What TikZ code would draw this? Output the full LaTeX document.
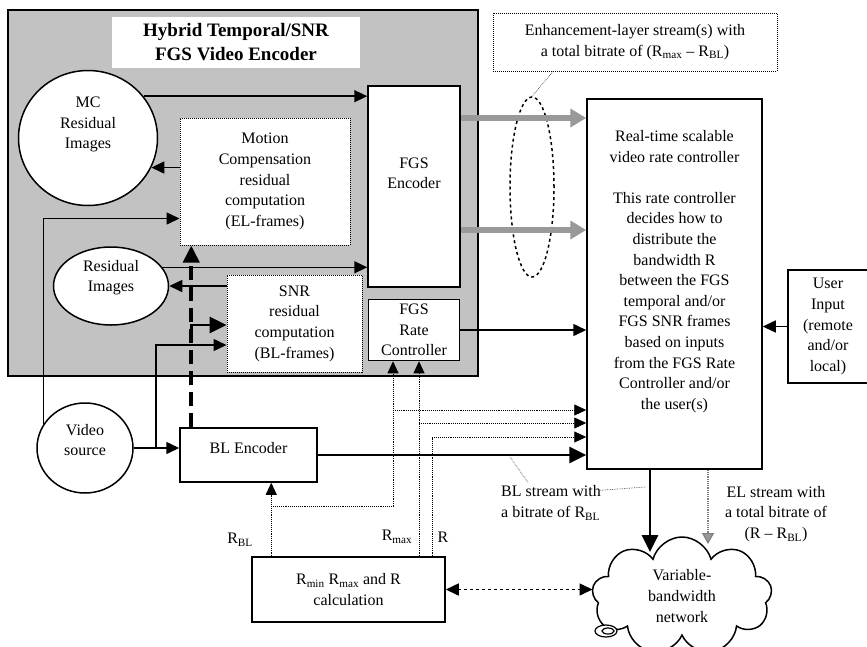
\documentclass[tikz,border=0pt]{standalone}
\usepackage{fontspec}
\setmainfont{Liberation Serif}
\usetikzlibrary{shapes,shapes.symbols,arrows,arrows.meta,positioning,fit,backgrounds}

\begin{document}
\begin{tikzpicture}[x=1pt, y=-1pt,
	every node/.style={font=\fontsize{16}{20.6}\selectfont},
	box/.style={draw, rectangle, fill=white, line width=1.5pt, align=center, inner sep=0pt},
	dotbox/.style={draw, densely dotted, rectangle, fill=white, line width=1pt, align=center, inner sep=0pt},
	blob/.style={draw, ellipse, fill=white, line width=1.5pt, align=center, inner sep=0pt},
	arr/.style={line width=1.5pt, -{Triangle[length=13pt,width=12pt]}},
	bigarr/.style={line width=2.8pt, -{Triangle[length=17pt,width=16pt]}},
	dotarr/.style={densely dotted, line width=0.9pt, -{Triangle[length=12pt,width=11pt]}},
	elarr/.style={line width=5.5pt, draw=black!40, -{Triangle[length=16pt,width=18pt,fill=black!40]}},
	callout/.style={densely dotted, line width=0.7pt, draw=black!70}]
	\useasboundingbox (0,0) rectangle (867,646);
	\fill[white] (0,0) rectangle (867,646);
	\node[draw, fill=black!24, line width=1.5pt, minimum width=470pt, minimum height=366pt] (enc) at (243,193) {};
	\node[fill=white, align=center, minimum width=248pt, minimum height=51pt, inner sep=0pt, font=\fontsize{19}{24}\selectfont\bfseries] (title) at (236,42.5) {Hybrid Temporal/SNR\\FGS Video Encoder};
	\node[blob, minimum width=139pt, minimum height=135pt, text depth=30pt] (mcres) at (88,138) {MC\\Residual\\Images};
	\node[dotbox, minimum width=170pt, minimum height=127pt] (mcbox) at (265,181.5) {Motion\\Compensation\\residual\\computation\\(EL-frames)};
	\node[box, minimum width=92pt, minimum height=201pt, text depth=27pt] (fgsenc) at (414,186.5) {FGS\\Encoder};
	\node[blob, minimum width=115pt, minimum height=78pt, text depth=20pt] (resimg) at (111,286) {Residual\\Images};
	\node[dotbox, minimum width=135pt, minimum height=97pt] (snrbox) at (294.5,323.5) {SNR\\residual\\computation\\(BL-frames)};
	\node[box, minimum width=91pt, minimum height=61pt, below=11pt of fgsenc] (fgsrc) {FGS\\Rate\\Controller};
	\node[box, minimum width=175pt, minimum height=370pt] (ctrl) at (674.5,284) {};
	\node[align=center, anchor=north, inner sep=0pt] (ctrltxt) at ([yshift=-32pt]ctrl.north) {Real-time scalable\\video rate controller\\[20.6pt]This rate controller\\decides how to\\distribute the\\bandwidth R\\between the FGS\\temporal and/or\\FGS SNR frames\\based on inputs\\from the FGS Rate\\Controller and/or\\the user(s)};
	\node[box, minimum width=80pt, minimum height=113pt] (user) at (828,326.5) {User\\Input\\(remote\\and/or\\local)};
	\node[blob, minimum width=96pt, minimum height=90pt, text depth=16pt] (vidsrc) at (85,448) {Video\\source};
	\node[box, minimum width=137pt, minimum height=54pt, text depth=14pt] (blenc) at (248.5,455) {BL Encoder};
	\node[box, minimum width=193pt, minimum height=65pt] (calc) at (348.5,589.5) {R\textsubscript{min} R\textsubscript{max} and R\\calculation};
	\node[draw, cloud, cloud puffs=9, cloud ignores aspect, line width=1.5pt, minimum width=180pt, minimum height=118pt, align=center, inner sep=0pt] (net) at (682,596) {Variable-\\bandwidth\\network};
	\draw[line width=1.2pt, fill=white] (606,631) ellipse (11pt and 6pt);
	\draw[line width=1.2pt] (608,631) ellipse (6pt and 3pt);
	\node[dotbox, fill=none, minimum width=284pt, minimum height=58pt] (elnote) at (635,42) {Enhancement-layer stream(s) with\\a total bitrate of (R\textsubscript{max} -- R\textsubscript{BL})};
	\node[draw, dashed, ellipse, line width=1.5pt, minimum width=44pt, minimum height=180pt, inner sep=0pt] (elell) at (532,187) {};
	\node (rbllbl) at (240,540) {R\textsubscript{BL}};
	\node (rmaxlbl) at (397,537) {R\textsubscript{max}};
	\node (rlbl) at (443,537) {R};
	\node[align=left] (blnote) at (551,503) {BL stream with\\a bitrate of R\textsubscript{BL}};
	\node[align=center] (elstream) at (776,514) {EL stream with\\a total bitrate of\\(R -- R\textsubscript{BL})};
	\coordinate (d0) at ([xshift=12pt]blenc.north west);
	\coordinate (rbl) at ([xshift=20pt]calc.north west);
	\coordinate (rmax) at ([xshift=70.5pt]calc.north);
	\coordinate (rr) at ([xshift=83.5pt]calc.north);
	\coordinate (c1) at (393,506);
	\coordinate (c2) at (393,410);
	\coordinate (c3) at (419,423);
	\coordinate (c4) at (432,437);
	\coordinate (blend) at (650,552);
	\coordinate (elend) at (708,544);
	\coordinate (p1) at (510,457);
	\coordinate (p2) at (645,487);
	\draw[arr] (mcres.37) -- (mcres.37 -| fgsenc.west);
	\draw[arr] (mcbox.west |- mcres.-25) -- (mcres.-25);
	\draw[arr] (vidsrc.150) |- ([yshift=27pt]mcbox.south west);
	\draw[arr] (resimg.20) -- (resimg.20 -| fgsenc.west);
	\draw[arr] (snrbox.west |- resimg.east) -- (resimg.east);
	\draw[line width=3.8pt, dash pattern=on 14pt off 7pt, -{Triangle[length=17pt,width=16pt]}] (d0) -- (d0 |- mcbox.south);
	\draw[bigarr] ([yshift=-10pt]snrbox.west -| d0) |- ([yshift=-1.5pt]snrbox.west);
	\draw[arr] (vidsrc.east) -- (vidsrc.east -| blenc.west);
	\draw[arr] ([xshift=22pt]vidsrc.east) |- ([yshift=-21.5pt]snrbox.west);
	\draw[elarr] ([yshift=68.5pt]fgsenc.east) -- ([yshift=68.5pt]fgsenc.east -| ctrl.west);
	\draw[elarr] ([yshift=-43.5pt]fgsenc.east) -- ([yshift=-43.5pt]fgsenc.east -| ctrl.west);
	\draw[arr] (fgsrc.east) -- (fgsrc.east -| ctrl.west);
	\draw[arr] (user.west) -- (user.west -| ctrl.east);
	\draw[bigarr] (blenc.east) -- (blenc.east -| ctrl.west);
	\draw[dotarr] (rbl) -- (rbl |- blenc.south);
	\draw[densely dotted, line width=0.9pt] (rbl |- c1) -- (c1);
	\draw[dotarr] (c1) -- (c1 |- fgsrc.south);
	\draw[dotarr] (c2) -- (c2 -| ctrl.west);
	\draw[dotarr] (rmax) -- (rmax |- fgsrc.south);
	\draw[dotarr] (c3) -- (c3 -| ctrl.west);
	\draw[dotarr] (rr) |- (c4 -| ctrl.west);
	\draw[bigarr] ([xshift=-24.5pt]ctrl.south) -- (blend);
	\draw[densely dotted, line width=1.2pt, draw=black!50, -{Triangle[length=11pt,width=12pt,fill=black!40]}] ([xshift=33.5pt]ctrl.south) -- (elend);
	\draw[dashed, line width=1.5pt, {Triangle[length=13pt,width=12pt]}-{Triangle[length=13pt,width=12pt]}] (calc.east) -- (calc.east -| net.west);
	\draw[callout] ([xshift=-82pt]elnote.south) -- (elell.north);
	\draw[callout] ([xshift=-23pt]blnote.north) -- (p1);
	\draw[callout] ([xshift=-4pt,yshift=-8pt]blnote.north east) -- (p2);
\end{tikzpicture}
\end{document}
